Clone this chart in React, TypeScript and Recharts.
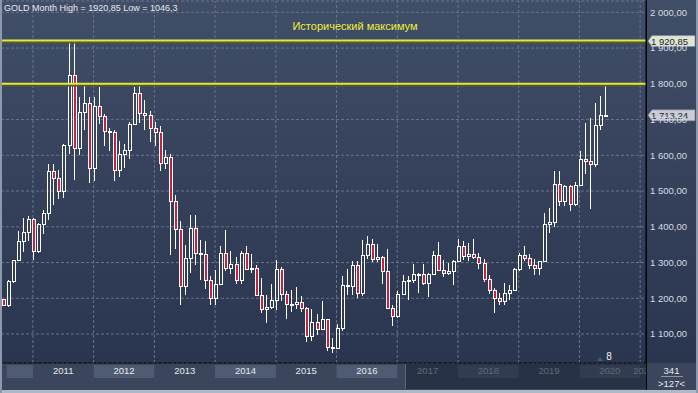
import React from 'react';
import { ComposedChart, Bar, XAxis, YAxis, CartesianGrid, ReferenceLine, ReferenceArea } from 'recharts';

const FONT = '"Liberation Sans", Arial, sans-serif';

// Monthly gold candles, Jul 2010 .. Jun 2020
const opens = [
  1197, 1181, 1247, 1307, 1359, 1386,
  1421, 1332, 1409, 1439, 1556, 1536, 1500, 1628, 1826, 1620, 1722, 1746,
  1565, 1738, 1709, 1668, 1664, 1560, 1604, 1614, 1687, 1773, 1719, 1712,
  1676, 1664, 1579, 1595, 1472, 1393, 1234, 1313, 1396, 1327, 1323, 1251,
  1201, 1240, 1326, 1284, 1296, 1250, 1327, 1282, 1286, 1210, 1171, 1175,
  1195, 1283, 1213, 1183, 1184, 1190, 1172, 1095, 1133, 1115, 1142, 1065,
  1061, 1117, 1238, 1233, 1293, 1215, 1322, 1351, 1309, 1316, 1277, 1173,
  1151, 1211, 1249, 1250, 1268, 1269, 1242, 1269, 1322, 1280, 1271, 1275,
  1303, 1345, 1318, 1325, 1315, 1298, 1253, 1224, 1201, 1192, 1214, 1222,
  1282, 1321, 1313, 1292, 1284, 1305, 1409, 1413, 1520, 1472, 1513, 1464,
  1517, 1589, 1585, 1577, 1686, 1713,
];
const highs = [
  1199, 1251, 1308, 1388, 1424, 1431,
  1424, 1411, 1447, 1575, 1577, 1560, 1632, 1913, 1920.85, 1764, 1803, 1764,
  1764, 1791, 1715, 1677, 1670, 1640, 1631, 1692, 1790, 1796, 1754, 1723,
  1694, 1682, 1616, 1605, 1488, 1416, 1348, 1433, 1434, 1362, 1361, 1262,
  1280, 1345, 1392, 1331, 1315, 1332, 1345, 1323, 1293, 1256, 1209, 1239,
  1307, 1287, 1220, 1224, 1232, 1205, 1175, 1170, 1157, 1191, 1143, 1088,
  1127, 1263, 1283, 1303, 1304, 1362, 1375, 1367, 1353, 1318, 1338, 1180,
  1220, 1264, 1261, 1296, 1271, 1296, 1270, 1331, 1357, 1306, 1299, 1307,
  1366, 1361, 1356, 1366, 1326, 1310, 1265, 1228, 1214, 1243, 1237, 1284,
  1326, 1346, 1324, 1310, 1305, 1439, 1452, 1555, 1557, 1517, 1516, 1525,
  1611, 1689, 1703, 1747, 1765, 1795,
];
const lows = [
  1178, 1175, 1243, 1306, 1330, 1361,
  1308, 1326, 1381, 1418, 1462, 1478, 1480, 1603, 1532, 1600, 1670, 1523,
  1527, 1688, 1627, 1612, 1527, 1540, 1565, 1590, 1684, 1691, 1672, 1636,
  1627, 1555, 1562, 1321, 1338, 1180, 1208, 1270, 1292, 1251, 1225, 1180,
  1182, 1238, 1277, 1268, 1241, 1240, 1281, 1272, 1206, 1160, 1131, 1170,
  1167, 1191, 1142, 1162, 1170, 1162, 1077, 1080, 1098, 1112, 1052, 1046.3,
  1058, 1108, 1208, 1209, 1200, 1207, 1310, 1301, 1302, 1241, 1171, 1123,
  1146, 1208, 1195, 1242, 1214, 1236, 1204, 1267, 1275, 1260, 1264, 1236,
  1302, 1307, 1303, 1310, 1282, 1246, 1211, 1160, 1180, 1182, 1196, 1221,
  1276, 1303, 1281, 1266, 1266, 1301, 1382, 1400, 1459, 1459, 1445, 1459,
  1516, 1547, 1451, 1567, 1670, 1711,
];
const closes = [
  1181, 1247, 1307, 1359, 1386, 1421,
  1332, 1409, 1439, 1556, 1536, 1500, 1628, 1826, 1620, 1722, 1746, 1565,
  1738, 1709, 1668, 1664, 1560, 1604, 1614, 1687, 1773, 1719, 1712, 1676,
  1664, 1579, 1595, 1472, 1393, 1234, 1313, 1396, 1327, 1323, 1251, 1201,
  1240, 1326, 1284, 1296, 1250, 1327, 1282, 1286, 1210, 1171, 1175, 1195,
  1283, 1213, 1183, 1184, 1190, 1172, 1095, 1133, 1115, 1142, 1065, 1061,
  1117, 1238, 1233, 1293, 1215, 1322, 1351, 1309, 1316, 1277, 1173, 1151,
  1211, 1249, 1250, 1268, 1269, 1242, 1269, 1322, 1280, 1271, 1275, 1303,
  1345, 1318, 1325, 1315, 1298, 1253, 1224, 1201, 1192, 1214, 1222, 1282,
  1321, 1313, 1292, 1284, 1305, 1409, 1413, 1520, 1472, 1513, 1464, 1517,
  1589, 1585, 1577, 1686, 1713, 1713.24,
];

const priceTicks = [1100, 1200, 1300, 1400, 1500, 1600, 1700, 1800, 1900, 2000];
const yearLabels = ['2011', '2012', '2013', '2014', '2015', '2016', '2017', '2018', '2019', '2020', '2021'];
const shadedYears = [2012, 2014, 2016, 2018, 2020];
const allTimeHigh = 1920.85;
const resistance = 1800;
const lastPrice = 1713.24;

const FIRST_YEAR = 2010;
const FIRST_MONTH = 6; // July
const janIndex = (yr: number) => (yr - FIRST_YEAR) * 12 - FIRST_MONTH;
const SEP_SHIFT = -0.15;

const data = opens.map((o, i) => ({ i, o, h: highs[i], l: lows[i], c: closes[i] }));

const X_DOMAIN: [number, number] = [-0.455, 127.0];
const Y_DOMAIN: [number, number] = [1018.9, 2031.7];

const separators = yearLabels.map((y) => janIndex(Number(y)) + SEP_SHIFT);
const yearTickPos = yearLabels.map((y, k) =>
  k === yearLabels.length - 1 ? 126.55 : janIndex(Number(y)) + SEP_SHIFT + 6
);
const bands = [
  { x1: 0.7, x2: janIndex(2011) + SEP_SHIFT },
  ...shadedYears.map((y) => ({ x1: janIndex(y) + SEP_SHIFT, x2: janIndex(y + 1) + SEP_SHIFT })),
];
const BAND_Y: [number, number] = [976.9, 1013.3];

const NBSP = '\u00a0';
const fmt = (v: number) => `${Math.floor(v / 1000)}${NBSP}${String(v % 1000).padStart(3, '0')},00`;

const GRID = '#66738c';

const Candle = (props: any) => {
  const { x, y, width, height, payload } = props;
  if (payload == null || x == null || y == null) return null;
  const top = Math.min(y, y + height);
  const bottom = Math.max(y, y + height);
  const { o, h, l, c } = payload;
  const span = h - l;
  const yOf = (p: number) => (span <= 0 ? top : top + ((h - p) / span) * (bottom - top));
  const cx = Math.round(x + width / 2);
  const up = c >= o;
  const yHi = Math.round(top);
  const yLo = Math.round(bottom);
  const b1 = Math.round(yOf(Math.max(o, c)));
  let b2 = Math.round(yOf(Math.min(o, c)));
  if (b2 - b1 < 1) b2 = b1 + 1;
  const wx = cx - 0.5;
  return (
    <g>
      {b1 > yHi && <line x1={wx} x2={wx} y1={yHi} y2={b1} stroke="#ffffff" strokeWidth={1} />}
      {yLo > b2 && <line x1={wx} x2={wx} y1={b2} y2={yLo} stroke="#ffffff" strokeWidth={1} />}
      <rect
        x={cx - 1.5}
        y={b1 + 0.5}
        width={3}
        height={b2 - b1}
        fill={up ? 'none' : '#c8213e'}
        stroke="#ffffff"
        strokeWidth={1}
      />
    </g>
  );
};

const YearTick = (props: any) => {
  const { x, y, payload } = props;
  const k = yearTickPos.indexOf(payload.value);
  const label = yearLabels[k] ?? '';
  const dim = Number(label) >= 2017;
  return (
    <text x={x} y={y + 9} textAnchor="middle" fontSize={9.5} fontFamily={FONT} fill={dim ? '#a9b1bf' : '#e4e8ee'}>
      {label}
    </text>
  );
};

const PriceTag = (props: any) => {
  const { viewBox, text, fill } = props;
  if (!viewBox) return null;
  const left = viewBox.x + viewBox.width + 2;
  const yy = viewBox.y + 0.5;
  const pts = `${left},${yy} ${left + 4},${yy - 5.5} ${left + 47},${yy - 5.5} ${left + 47},${yy + 5.5} ${left + 4},${yy + 5.5}`;
  return (
    <g>
      <polygon points={pts} fill={fill} stroke="#7d8594" strokeWidth={0.6} />
      <text x={left + 3} y={yy + 3.6} fontSize={9.5} fontFamily={FONT} fill="#1c2333">
        {text}
      </text>
    </g>
  );
};

const abs = (l: number, t: number, w: number, h: number, extra: React.CSSProperties = {}): React.CSSProperties => ({
  position: 'absolute',
  left: l,
  top: t,
  width: w,
  height: h,
  ...extra,
});

export default function App() {
  return (
    <div style={abs(0, 0, 698, 393, { overflow: 'hidden', fontFamily: FONT, background: '#3b465d' })}>
      <div style={abs(0, 0, 698, 363, { background: 'linear-gradient(to bottom, #414e67 0%, #2a3550 100%)' })} />
      <div style={abs(0, 363, 698, 30, { background: '#3b465d' })} />
      <div style={abs(0, 0, 698, 393)}>
        <ComposedChart width={698} height={393} data={data} margin={{ top: 1, right: 0, bottom: 0, left: 1 }}>
          <CartesianGrid horizontal vertical={false} stroke={GRID} strokeDasharray="3 2" />
          {bands.map((b, k) => (
            <ReferenceArea
              key={`band${k}`}
              x1={b.x1}
              x2={b.x2}
              y1={BAND_Y[0]}
              y2={BAND_Y[1]}
              fill="#4f5b73"
              fillOpacity={1}
              stroke="none"
              ifOverflow="visible"
            />
          ))}
          {separators.map((s, k) => (
            <ReferenceLine key={`sep${k}`} x={s} stroke={GRID} strokeDasharray="3 2" zIndex={-100} />
          ))}
          <XAxis
            type="number"
            dataKey="i"
            domain={X_DOMAIN}
            allowDataOverflow
            ticks={yearTickPos}
            interval={0}
            tick={<YearTick />}
            tickLine={false}
            tickSize={0}
            axisLine={{ stroke: '#000000' }}
            height={30}
          />
          <YAxis
            orientation="right"
            domain={Y_DOMAIN}
            allowDataOverflow
            ticks={priceTicks}
            interval={0}
            tickFormatter={fmt}
            tick={{ fill: '#d6dbe3', fontSize: 9.5, fontFamily: FONT }}
            tickLine={false}
            tickSize={0}
            tickMargin={4}
            axisLine={{ stroke: '#000000' }}
            width={52}
          />
          <Bar dataKey={(d: any) => [d.l, d.h]} barSize={4} shape={<Candle />} isAnimationActive={false} />
          <ReferenceLine y={allTimeHigh - 5} stroke="#545a2c" strokeWidth={2} />
          <ReferenceLine y={resistance - 5} stroke="#545a2c" strokeWidth={2} />
          <ReferenceLine y={resistance} stroke="#e2e83a" strokeWidth={2} />
          <ReferenceLine
            y={allTimeHigh}
            stroke="#e2e83a"
            strokeWidth={2}
            ifOverflow="visible"
            label={<PriceTag text={`1${NBSP}920,85`} fill="#dfe5d2" />}
          />
          <ReferenceLine
            y={lastPrice}
            stroke="none"
            strokeOpacity={0}
            ifOverflow="visible"
            label={<PriceTag text={`1${NBSP}713,24`} fill="#c9cdd3" />}
          />
        </ComposedChart>
      </div>
      <div style={abs(405, 364, 241, 25, { background: 'rgba(22,29,48,0.5)', borderLeft: '1px solid #5c667a', boxSizing: 'border-box' })} />
      <div style={abs(646, 0, 1, 393, { background: '#000' })} />
      <div style={abs(647, 364, 49, 26, { background: '#3b465d' })} />
      <div style={abs(647, 365, 49, 11, { color: '#e6eaf0', fontSize: 9.5, lineHeight: '11px', textAlign: 'center' })}>341</div>
      <div style={abs(661, 376, 22, 1, { background: '#8a95a6' })} />
      <div style={abs(647, 378, 49, 11, { color: '#e6eaf0', fontSize: 9.5, lineHeight: '11px', textAlign: 'center' })}>&gt;127&lt;</div>
      <div style={abs(0, 390, 698, 3, { background: '#aeb8c7' })} />
      <div style={abs(0, 0, 2, 393, { background: '#8d99ab' })} />
      <div style={abs(696, 0, 2, 393, { background: '#8d99ab' })} />
      <div style={abs(4, 3, 300, 11, { color: '#e6eaef', fontSize: 9, lineHeight: '11px', whiteSpace: 'nowrap' })}>
        GOLD Month High = 1920,85 Low = 1046,3
      </div>
      <div style={abs(230, 20, 250, 13, { color: '#eef03c', fontSize: 11, lineHeight: '13px', whiteSpace: 'nowrap', textAlign: 'center' })}>
        Исторический максимум
      </div>
      <div style={abs(597, 357, 0, 0, { borderLeft: '3px solid transparent', borderRight: '3px solid transparent', borderBottom: '4px solid #4c5872' })} />
      <div style={abs(603, 351, 12, 11, { color: '#eef1f5', fontSize: 10, lineHeight: '11px', textAlign: 'center' })}>8</div>
    </div>
  );
}
